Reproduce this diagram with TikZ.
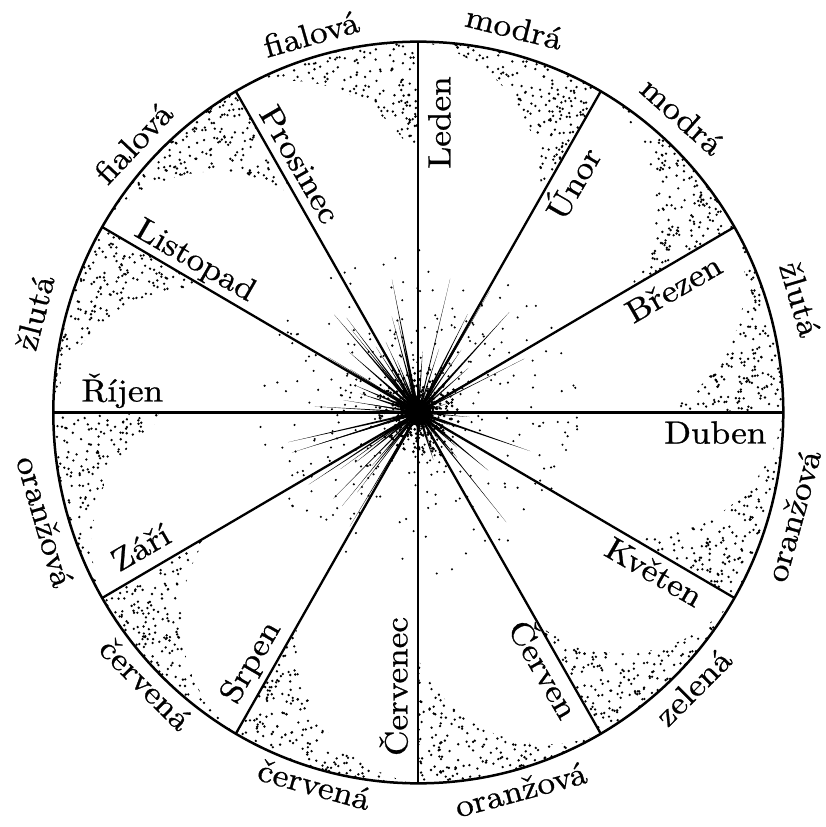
\documentclass[tikz,border=0pt]{standalone}
\usepackage{fontspec}
\setmainfont{lmroman10-regular.otf}[FakeBold=0.8]
\usepackage{graphicx}
\usetikzlibrary{calc}
\tikzset{
  rimline/.style={line width=2.5pt},
  spoke/.style={line width=2.3pt},
  monthlabel/.style={font=\fontsize{32}{36}\selectfont, inner sep=0pt, anchor=base},
  colourlabel/.style={font=\fontsize{32}{36}\selectfont, inner sep=0pt, text height=0.72em, text depth=0pt, anchor=center},
}
\newcommand\wide[1]{\scalebox{1.1}[1]{#1}}
\begin{document}
\begin{tikzpicture}[x=1pt,y=1pt]
\useasboundingbox (-418.3,-414.5) rectangle (407.7,412.5);
\pgfmathsetseed{4242}
\begin{scope}[yscale=1.016]
  \coordinate (O) at (0,0);
  % stippled crescents
  \foreach \s in {0,30,...,330}{
    \begin{scope}
      \clip (\s:243) -- (\s:365) arc[start angle=\s, end angle=\s+30, radius=365]
            arc[start angle=\s+22, end angle=\s-65.7, radius=141.85] -- cycle;
      \foreach \k in {1,...,400}{
        \pgfmathsetmacro\ang{\s+30*rnd}
        \pgfmathsetmacro\rad{100*sqrt(5.29+rnd*8.0325)}
        \fill (\ang:\rad) circle[radius=1.3];
      }
    \end{scope}
  }
  % scattered dots round the centre
  \foreach \k in {1,...,550}{
    \pgfmathsetmacro\ang{360*rnd}
    \pgfmathsetmacro\rad{160*rnd^1.7}
    \fill (\ang:\rad) circle[radius=1.15];
  }
  % rays
  \foreach \k in {1,...,85}{
    \pgfmathsetmacro\ang{360*rnd}
    \pgfmathsetmacro\len{15+125*rnd^1.6}
    \pgfmathsetmacro\w{0.6+1.0*rnd}
    \fill (\ang+90:\w) -- (\ang:\len) -- (\ang-90:\w) -- cycle;
  }
  % dark centre
  \fill (O) circle[radius=13];
  \foreach \k in {1,...,300}{
    \pgfmathsetmacro\ang{360*rnd}
    \pgfmathsetmacro\rad{42*rnd^1.5}
    \fill (\ang:\rad) circle[radius=1.5];
  }
  % spokes and rim
  \foreach \s in {0,30,...,330}{
    \coordinate (r\s) at (\s:365);
    \draw[spoke] (O) -- (r\s);
  }
  \draw[rimline] (O) circle[radius=365];
\end{scope}
% months
\node[monthlabel, rotate=90]  (leden)    at ($(90:290)+(0:32)$)     {\wide{Leden}};
\node[monthlabel, rotate=60]  (unor)     at ($(60:276)+(-30:31)$)   {\wide{Únor}};
\node[monthlabel, rotate=30]  (brezen)   at ($(30:283)+(-60:31)$)   {\wide{Březen}};
\node[monthlabel, rotate=0]   (duben)    at ($(0:297)+(-90:31)$)    {\wide{Duben}};
\node[monthlabel, rotate=-30] (kveten)   at ($(-30:284)+(-120:31)$) {\wide{Květen}};
\node[monthlabel, rotate=-60] (cerven)   at ($(-60:285)+(-150:31)$) {\wide{Červen}};
\node[monthlabel, rotate=90]  (cervenec) at ($(270:274)+(180:11)$)  {\wide{Červenec}};
\node[monthlabel, rotate=60]  (srpen)    at ($(240:300)+(150:11)$)  {\wide{Srpen}};
\node[monthlabel, rotate=30]  (zari)     at ($(210:308)+(120:11)$)  {\wide{Září}};
\node[monthlabel, rotate=0]   (rijen)    at ($(180:296)+(90:11)$)   {\wide{Říjen}};
\node[monthlabel, rotate=-30] (listopad) at ($(150:269)+(60:11)$)   {\wide{Listopad}};
\node[monthlabel, rotate=-60] (prosinec) at ($(120:274)+(30:11)$)   {\wide{Prosinec}};
% colours
\node[colourlabel, rotate=-14]   (c1)  at (76:389.5)    {\wide{modrá}};
\node[colourlabel, rotate=-41.7] (c2)  at (48.3:389.6)  {\wide{modrá}};
\node[colourlabel, rotate=-73.5] (c3)  at (16.5:391)    {\wide{žlutá}};
\node[colourlabel, rotate=74.6]  (c4)  at (-15.4:396)   {\wide{oranžová}};
\node[colourlabel, rotate=45]    (c5)  at (-45:396)     {\wide{zelená}};
\node[colourlabel, rotate=15.2]  (c6)  at (-74.8:398)   {\wide{oranžová}};
\node[colourlabel, rotate=-15.6] (c7)  at (254.4:393.6) {\wide{červená}};
\node[colourlabel, rotate=-45.1] (c8)  at (224.9:392)   {\wide{červená}};
\node[colourlabel, rotate=-73.7] (c9)  at (196.3:396)   {\wide{oranžová}};
\node[colourlabel, rotate=75.4]  (c10) at (165.4:389)   {\wide{žlutá}};
\node[colourlabel, rotate=46.6]  (c11) at (136.6:384.8) {\wide{fialová}};
\node[colourlabel, rotate=15.8]  (c12) at (105.8:386)   {\wide{fialová}};
\end{tikzpicture}
\end{document}
